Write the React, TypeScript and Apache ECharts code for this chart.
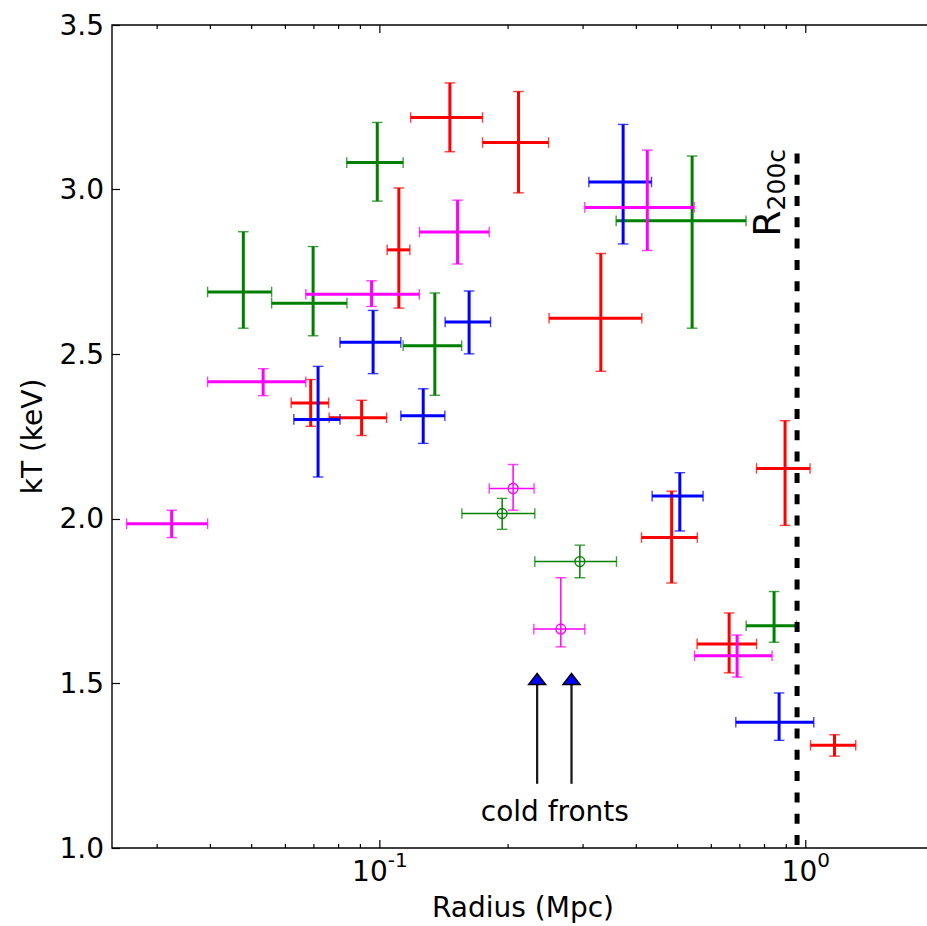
import React, { useEffect, useRef } from 'react';
import * as echarts from 'echarts';

const FONT = "'DejaVu Sans', 'Liberation Sans', sans-serif";

// Each row: [radius, radiusLow, radiusHigh, kT, kTLow, kTHigh]
const redPoints = [
  [0.0688, 0.0619, 0.0758, 2.352, 2.281, 2.423],
  [0.0906, 0.076, 0.1037, 2.307, 2.253, 2.36],
  [0.1108, 0.104, 0.1176, 2.817, 2.64, 3.005],
  [0.146, 0.1181, 0.1742, 3.219, 3.115, 3.324],
  [0.2116, 0.1742, 0.2489, 3.143, 2.99, 3.298],
  [0.3302, 0.2496, 0.4121, 2.609, 2.448, 2.806],
  [0.4842, 0.4114, 0.5564, 1.943, 1.805, 2.084],
  [0.6607, 0.5556, 0.7662, 1.62, 1.532, 1.714],
  [0.894, 0.7662, 1.0235, 2.153, 1.98, 2.298],
  [1.168, 1.026, 1.31, 1.312, 1.279, 1.344],
];

const greenPoints = [
  [0.0478, 0.0394, 0.0557, 2.689, 2.579, 2.872],
  [0.0697, 0.0557, 0.0837, 2.655, 2.556, 2.827],
  [0.0986, 0.0836, 0.1134, 3.082, 2.965, 3.204],
  [0.1346, 0.1134, 0.1556, 2.526, 2.375, 2.686],
  [0.5409, 0.3587, 0.7240, 2.905, 2.579, 3.102],
  [0.8424, 0.7245, 0.951, 1.675, 1.625, 1.779],
];

const bluePoints = [
  [0.0716, 0.0628, 0.0806, 2.302, 2.127, 2.463],
  [0.0964, 0.0806, 0.112, 2.536, 2.441, 2.633],
  [0.1264, 0.112, 0.1421, 2.313, 2.229, 2.395],
  [0.162, 0.1423, 0.1819, 2.598, 2.501, 2.692],
  [0.3725, 0.3095, 0.4343, 3.023, 2.835, 3.198],
  [0.5061, 0.4357, 0.574, 2.069, 1.963, 2.14],
  [0.8656, 0.685, 1.044, 1.382, 1.327, 1.471],
];

const magentaPoints = [
  [0.03244, 0.02543, 0.0394, 1.985, 1.943, 2.026],
  [0.0532, 0.0394, 0.067, 2.416, 2.374, 2.456],
  [0.0956, 0.067, 0.1238, 2.682, 2.645, 2.723],
  [0.1522, 0.1239, 0.1806, 2.871, 2.774, 2.968],
  [0.4245, 0.3028, 0.5470, 2.946, 2.815, 3.12],
  [0.6898, 0.548, 0.8334, 1.584, 1.519, 1.647],
];

const greenOpenPoints = [
  [0.1937, 0.1558, 0.2311, 2.016, 1.968, 2.062],
  [0.2948, 0.2311, 0.3594, 1.87, 1.821, 1.92],
];

const magentaOpenPoints = [
  [0.2055, 0.1806, 0.2302, 2.092, 2.026, 2.165],
  [0.266, 0.2298, 0.3028, 1.665, 1.611, 1.821],
];

const X_MIN = 0.0235;
const X_MAX = 2.0;
const Y_MIN = 1.0;
const Y_MAX = 3.5;
const Y_STEP = 0.5;

const xMajorTicks = [0.1, 1];
const xMinorTicks = [0.03, 0.04, 0.05, 0.06, 0.07, 0.08, 0.09, 0.2, 0.3, 0.4, 0.5, 0.6, 0.7, 0.8, 0.9, 2];

const r200cLine = [
  [0.954, 3.11],
  [0.954, 1.0],
];
const r200cLabel = [[0.81, 2.99]];

const coldFrontArrows = [
  [0.234, 1.53, 1.195],
  [0.2818, 1.53, 1.195],
];
const coldFrontLabel = [[0.2575, 1.11]];

const COLORS = { red: '#ff0000', green: '#008000', blue: '#0000ff', magenta: '#ff00ff' };

function errorBarSeries(name: string, data: number[][], color: string, lw: number, circle: boolean) {
  return {
    name,
    type: 'custom',
    coordinateSystem: 'cartesian2d',
    silent: true,
    data,
    encode: { x: [0, 1, 2], y: [3, 4, 5] },
    renderItem: (_params: any, api: any) => {
      const r = api.value(0);
      const rLo = api.value(1);
      const rHi = api.value(2);
      const t = api.value(3);
      const tLo = api.value(4);
      const tHi = api.value(5);
      const c = api.coord([r, t]);
      const l = api.coord([rLo, t]);
      const h = api.coord([rHi, t]);
      const b = api.coord([r, tLo]);
      const tp = api.coord([r, tHi]);
      const cap = 5.3;
      const capStyle = { stroke: color, lineWidth: 1.4, opacity: 0.75 };
      const barStyle = { stroke: color, lineWidth: lw };
      const children: any[] = [
        { type: 'line', shape: { x1: l[0], y1: c[1], x2: h[0], y2: c[1] }, style: barStyle },
        { type: 'line', shape: { x1: c[0], y1: b[1], x2: c[0], y2: tp[1] }, style: barStyle },
        { type: 'line', shape: { x1: l[0], y1: c[1] - cap, x2: l[0], y2: c[1] + cap }, style: capStyle },
        { type: 'line', shape: { x1: h[0], y1: c[1] - cap, x2: h[0], y2: c[1] + cap }, style: capStyle },
        { type: 'line', shape: { x1: c[0] - cap, y1: b[1], x2: c[0] + cap, y2: b[1] }, style: capStyle },
        { type: 'line', shape: { x1: c[0] - cap, y1: tp[1], x2: c[0] + cap, y2: tp[1] }, style: capStyle },
      ];
      if (circle) {
        children.push({
          type: 'circle',
          shape: { cx: c[0], cy: c[1], r: 5 },
          style: { fill: 'none', stroke: color, lineWidth: 1.3 },
        });
      }
      return { type: 'group', children };
    },
  };
}

function tickSeries(values: number[], len: number) {
  return {
    type: 'custom',
    coordinateSystem: 'cartesian2d',
    silent: true,
    data: values.map((v) => [v, Y_MIN]),
    encode: { x: 0, y: 1 },
    renderItem: (_params: any, api: any) => {
      const v = api.value(0);
      const b = api.coord([v, Y_MIN]);
      const t = api.coord([v, Y_MAX]);
      const st = { stroke: '#000', lineWidth: 1.2 };
      return {
        type: 'group',
        children: [
          { type: 'line', shape: { x1: b[0], y1: b[1], x2: b[0], y2: b[1] - len }, style: st },
          { type: 'line', shape: { x1: t[0], y1: t[1], x2: t[0], y2: t[1] + len }, style: st },
        ],
      };
    },
  };
}

function isPow10(v: number) {
  const l = Math.log10(v);
  return Math.abs(l - Math.round(l)) < 1e-6;
}

export default function App() {
  const ref = useRef<HTMLDivElement>(null);

  useEffect(() => {
    if (!ref.current) return;
    const chart = echarts.init(ref.current, undefined, { renderer: 'svg' });

    const option: any = {
      animation: false,
      backgroundColor: '#ffffff',
      grid: {
        left: 112,
        top: 25,
        width: 822,
        height: 825,
        show: true,
        borderColor: '#000',
        borderWidth: 1.4,
        backgroundColor: 'transparent',
      },
      xAxis: {
        type: 'log',
        logBase: 10,
        min: X_MIN,
        max: X_MAX,
        name: 'Radius (Mpc)',
        nameLocation: 'middle',
        nameGap: 45,
        nameTextStyle: { fontSize: 28, fontFamily: FONT, color: '#000' },
        axisLine: { show: false },
        axisTick: { show: false },
        splitLine: { show: false },
        axisLabel: {
          interval: 0,
          margin: 2,
          color: '#000',
          formatter: (v: number) => (isPow10(v) ? '{b|10}{s|' + Math.round(Math.log10(v)) + '}' : ''),
          rich: {
            b: { fontSize: 28, fontFamily: FONT, color: '#000', lineHeight: 42 },
            s: { fontSize: 20, fontFamily: FONT, color: '#000', lineHeight: 20, verticalAlign: 'top' },
          },
        },
      },
      yAxis: {
        type: 'value',
        min: Y_MIN,
        max: Y_MAX,
        interval: Y_STEP,
        name: 'kT (keV)',
        nameLocation: 'middle',
        nameRotate: 90,
        nameGap: 66,
        nameTextStyle: { fontSize: 28, fontFamily: FONT, color: '#000' },
        axisLine: { show: false },
        axisTick: { show: true, inside: true, length: 8, lineStyle: { color: '#000', width: 1.2 } },
        splitLine: { show: false },
        axisLabel: {
          fontSize: 28,
          fontFamily: FONT,
          color: '#000',
          margin: 8,
          formatter: (v: number) => v.toFixed(1),
        },
      },
      series: [
        tickSeries(xMinorTicks, 4),
        tickSeries(xMajorTicks, 8),
        errorBarSeries('green', greenPoints, COLORS.green, 3, false),
        errorBarSeries('red', redPoints, COLORS.red, 3, false),
        errorBarSeries('blue', bluePoints, COLORS.blue, 3, false),
        errorBarSeries('magenta', magentaPoints, COLORS.magenta, 3, false),
        errorBarSeries('green open', greenOpenPoints, COLORS.green, 1.5, true),
        errorBarSeries('magenta open', magentaOpenPoints, COLORS.magenta, 1.5, true),
        {
          type: 'line',
          data: r200cLine,
          symbol: 'none',
          silent: true,
          lineStyle: { color: '#000', width: 5, type: [10, 11.3], cap: 'butt' },
        },
        {
          type: 'custom',
          coordinateSystem: 'cartesian2d',
          silent: true,
          data: r200cLabel,
          encode: { x: 0, y: 1 },
          renderItem: (_p: any, api: any) => {
            const p = api.coord([api.value(0), api.value(1)]);
            return {
              type: 'text',
              x: p[0],
              y: p[1],
              rotation: Math.PI / 2,
              style: {
                text: '{r|R}{s|200c}',
                align: 'center',
                verticalAlign: 'middle',
                fill: '#000',
                fontFamily: FONT,
                rich: {
                  r: { fontSize: 38, fontFamily: FONT, fill: '#000', lineHeight: 44 },
                  s: { fontSize: 25, fontFamily: FONT, fill: '#000', lineHeight: 29, verticalAlign: 'bottom' },
                },
              },
            };
          },
        },
        {
          type: 'custom',
          coordinateSystem: 'cartesian2d',
          silent: true,
          data: coldFrontArrows,
          encode: { x: 0, y: [1, 2] },
          renderItem: (_p: any, api: any) => {
            const tip = api.coord([api.value(0), api.value(1)]);
            const tail = api.coord([api.value(0), api.value(2)]);
            const headLen = 11;
            const headHalf = 8.5;
            return {
              type: 'group',
              children: [
                {
                  type: 'line',
                  shape: { x1: tail[0], y1: tail[1], x2: tip[0], y2: tip[1] + headLen },
                  style: { stroke: '#1a1a1a', lineWidth: 2.3 },
                },
                {
                  type: 'polygon',
                  shape: {
                    points: [
                      [tip[0], tip[1]],
                      [tip[0] - headHalf, tip[1] + headLen],
                      [tip[0] + headHalf, tip[1] + headLen],
                    ],
                  },
                  style: { fill: '#0000ff', stroke: '#000', lineWidth: 1.5 },
                },
              ],
            };
          },
        },
        {
          type: 'custom',
          coordinateSystem: 'cartesian2d',
          silent: true,
          data: coldFrontLabel,
          encode: { x: 0, y: 1 },
          renderItem: (_p: any, api: any) => {
            const p = api.coord([api.value(0), api.value(1)]);
            return {
              type: 'text',
              x: p[0],
              y: p[1],
              style: {
                text: 'cold fronts',
                align: 'center',
                verticalAlign: 'middle',
                fill: '#000',
                fontSize: 28,
                fontFamily: FONT,
              },
            };
          },
        },
      ],
    };

    chart.setOption(option);
    return () => chart.dispose();
  }, []);

  return (
    <div
      style={{
        position: 'absolute',
        left: 0,
        top: 0,
        width: 927,
        height: 926,
        overflow: 'hidden',
        background: '#fff',
      }}
    >
      <div ref={ref} style={{ width: 940, height: 926 }} />
    </div>
  );
}
